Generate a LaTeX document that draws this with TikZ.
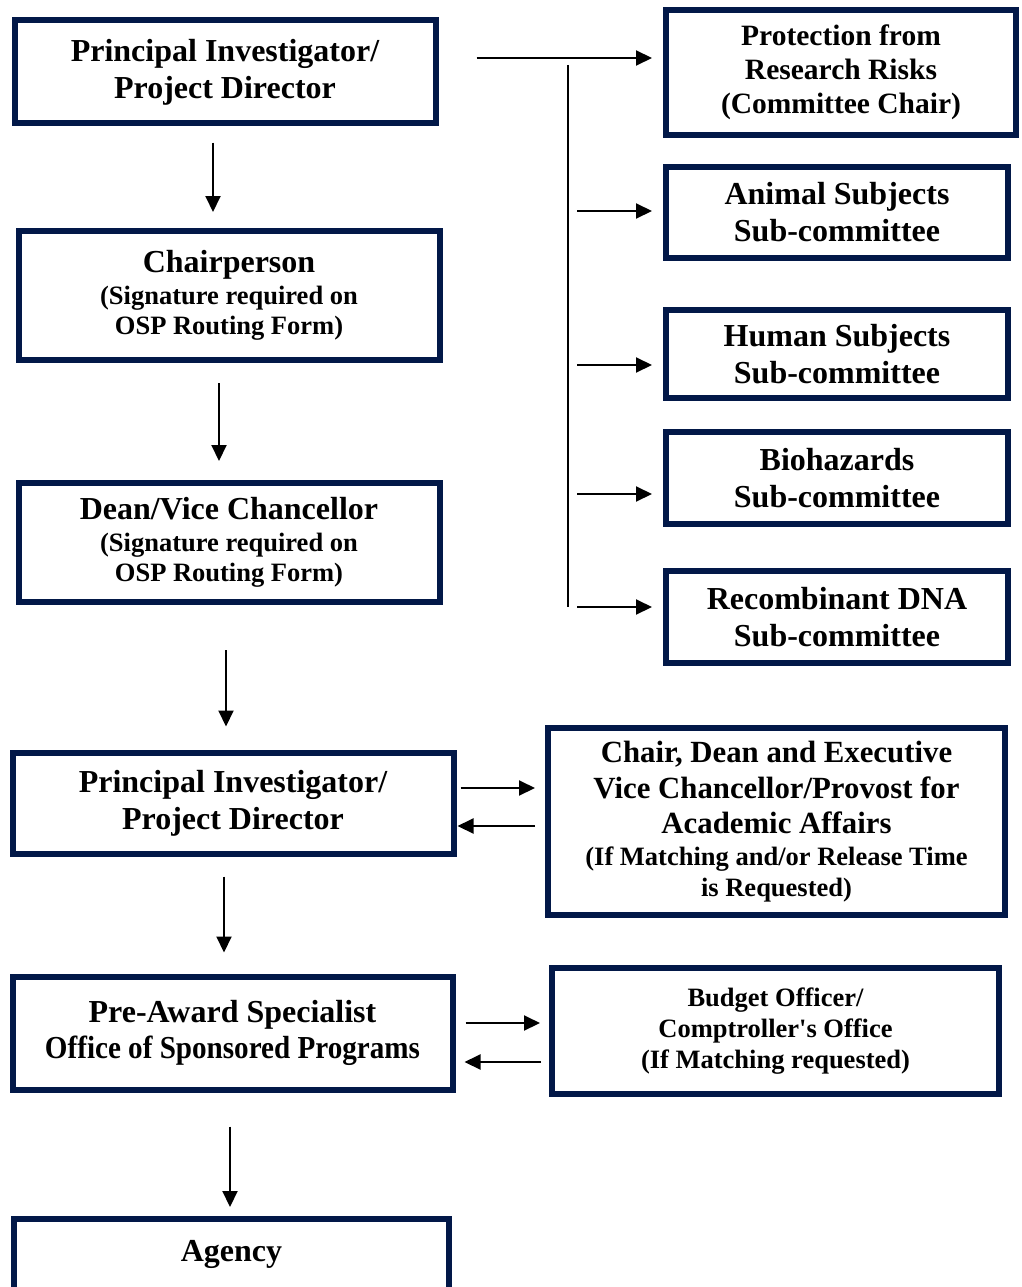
\documentclass[tikz,border=0pt]{standalone}
\definecolor{navy}{RGB}{2,24,72}
\usepackage{fontspec}
\setmainfont{Liberation Serif}
\usepackage{tikz}
\usetikzlibrary{arrows.meta,positioning,calc}
\newcommand{\bigtxt}{\fontsize{32}{37}\selectfont}
\newcommand{\smtxt}{\fontsize{26.5}{31}\selectfont}

\begin{document}
\begin{tikzpicture}[x=1pt,y=-1pt,
				box/.style={draw=navy,line width=6pt,fill=white,
					align=center,inner sep=0pt,font=\bfseries\bigtxt},
				arr/.style={-{Triangle[length=16pt,width=15pt]},line width=2pt,black}]
				
				\useasboundingbox (0,0) rectangle (1021,1287);
				
				\node[box,minimum width=421pt,minimum height=103pt] (pi1) at (225,72)
					{Principal Investigator/\\Project Director};
				\node[box,minimum width=421pt,minimum height=129pt] (chair) at (229,295.5)
					{Chairperson\\[-5pt]\smtxt (Signature required on\\[-7pt]\smtxt OSP Routing Form)};
				\node[box,minimum width=421pt,minimum height=119pt] (dean) at (229,542.5)
					{Dean/Vice Chancellor\\[-5pt]\smtxt (Signature required on\\[-7pt]\smtxt OSP Routing Form)};
				\node[box,minimum width=441pt,minimum height=101pt] (pi2) at (233,803)
					{Principal Investigator/\\Project Director};
				\node[box,minimum width=440pt,minimum height=113pt,font=\bfseries\fontsize{32}{36}\selectfont] (pre) at (232.5,1033)
					{Pre-Award Specialist\\\addfontfeature{FakeStretch=0.91}Office of Sponsored Programs};
				\node[box,minimum width=435pt,anchor=north,inner ysep=22pt,
					text height=20pt,text depth=60pt] (agency) at (231.5,1216) {Agency};
				
				\node[box,minimum width=350pt,minimum height=125pt,font=\bfseries\fontsize{29.5}{34}\selectfont] (prot) at (841,72.5)
					{Protection from\\Research Risks\\(Committee Chair)};
				\node[box,minimum width=342pt,minimum height=91pt] (animal) at (837,212.5)
					{Animal Subjects\\Sub-committee};
				\node[box,minimum width=342pt,minimum height=88pt] (human) at (837,354)
					{Human Subjects\\Sub-committee};
				\node[box,minimum width=342pt,minimum height=92pt] (bio) at (837,478)
					{Biohazards\\Sub-committee};
				\node[box,minimum width=342pt,minimum height=92pt] (recomb) at (837,617)
					{Recombinant DNA\\Sub-committee};
				\node[box,minimum width=457pt,minimum height=187pt,font=\bfseries\fontsize{30.8}{35.5}\selectfont] (cdean) at (776.5,821.5)
					{Chair, Dean and Executive\\Vice Chancellor/Provost for\\Academic Affairs\\[-4pt]
					\smtxt (If Matching and/or Release Time\\[-4.5pt]\smtxt is Requested)};
				\node[box,minimum width=447pt,minimum height=126pt,font=\bfseries\smtxt] (budget) at (775.5,1031)
					{Budget Officer/\\Comptroller\textquotesingle s Office\\(If Matching requested)};
				
				\coordinate (bustop) at (568,65);
				\coordinate (busbot) at (568,607);
				\coordinate (tap1) at (577,211);
				\coordinate (tap2) at (577,365);
				\coordinate (tap3) at (577,494);
				\coordinate (tap4) at (577,607);
				
				\draw[arr,shorten <=38pt,shorten >=11pt] ([yshift=14pt]pi1.east) -- ([yshift=14pt]pi1.east -| prot.west);
				\draw[line width=2pt] (bustop) -- (busbot);
				\draw[arr,shorten >=11pt] (tap1) -- (tap1 -| animal.west);
				\draw[arr,shorten >=11pt] (tap2) -- (tap2 -| human.west);
				\draw[arr,shorten >=11pt] (tap3) -- (tap3 -| bio.west);
				\draw[arr,shorten >=11pt] (tap4) -- (tap4 -| recomb.west);
				
				\draw[arr,shorten <=16pt,shorten >=16pt] ([xshift=-12pt]pi1.south) -- ([xshift=-12pt]pi1.south |- chair.north);
				\draw[arr,shorten <=20pt,shorten >=19pt] ([xshift=-10pt]chair.south) -- ([xshift=-10pt]chair.south |- dean.north);
				\draw[arr,shorten <=45pt,shorten >=23pt] ([xshift=-3pt]dean.south) -- ([xshift=-3pt]dean.south |- pi2.north);
				\draw[arr,shorten <=20pt,shorten >=21pt] ([xshift=-9pt]pi2.south) -- ([xshift=-9pt]pi2.south |- pre.north);
				\draw[arr,shorten <=34pt,shorten >=9pt] ([xshift=-2.5pt]pre.south) -- ([xshift=-2.5pt]pre.south |- agency.north);
				
				\draw[arr,shorten <=4pt,shorten >=10pt] ([yshift=15pt]pi2.east) -- ([yshift=15pt]pi2.east -| cdean.west);
				\draw[arr,shorten <=10pt,shorten >=1pt] ([yshift=-23pt]pi2.east -| cdean.west) -- ([yshift=-23pt]pi2.east);
				\draw[arr,shorten <=10pt,shorten >=9pt] ([yshift=10pt]pre.east) -- ([yshift=10pt]pre.east -| budget.west);
				\draw[arr,shorten <=8pt,shorten >=9pt] ([yshift=-29pt]pre.east -| budget.west) -- ([yshift=-29pt]pre.east);
			\end{tikzpicture}
\end{document}
